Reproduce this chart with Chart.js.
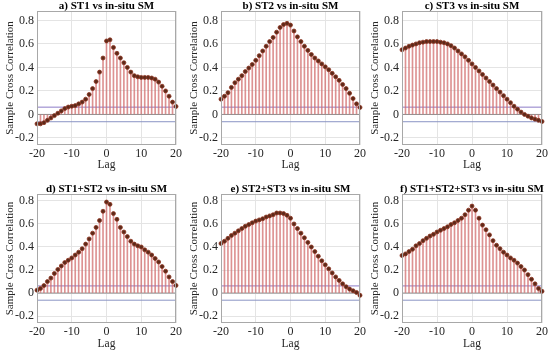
<!DOCTYPE html>
<html lang="en">
<head>
  <meta charset="UTF-8" />
  <title>Sample Cross Correlation vs in-situ SM</title>
  <script src="https://cdn.jsdelivr.net/npm/chart.js"></script>
  <style>
    body {
      margin: 0;
      background: #fff;
      width: 550px;
      height: 357px;
      position: relative;
      overflow: hidden;
    }
    .panel { position: absolute; }
  </style>
</head>
<body>
  <div class="panel" style="left:0px;top:-1px;width:184px;height:174px"><canvas id="chartA"></canvas></div>
  <div class="panel" style="left:184px;top:-1px;width:184px;height:174px"><canvas id="chartB"></canvas></div>
  <div class="panel" style="left:365px;top:-1px;width:185px;height:174px"><canvas id="chartC"></canvas></div>
  <div class="panel" style="left:0px;top:182px;width:184px;height:170px"><canvas id="chartD"></canvas></div>
  <div class="panel" style="left:184px;top:182px;width:184px;height:170px"><canvas id="chartE"></canvas></div>
  <div class="panel" style="left:365px;top:182px;width:185px;height:170px"><canvas id="chartF"></canvas></div>

  <script>
    // lags and tick values
    const lags = [-20, -19, -18, -17, -16, -15, -14, -13, -12, -11, -10, -9, -8, -7, -6, -5, -4, -3, -2, -1,
                  0, 1, 2, 3, 4, 5, 6, 7, 8, 9, 10, 11, 12, 13, 14, 15, 16, 17, 18, 19, 20];
    const xTicks = [-20, -10, 0, 10, 20];
    const yTicks = [-0.2, 0, 0.2, 0.4, 0.6, 0.8];
    const confBound = 0.062;

    const titles = [
      "a) ST1 vs in-situ SM",
      "b) ST2 vs in-situ SM",
      "c) ST3 vs in-situ SM",
      "d) ST1+ST2 vs in-situ SM",
      "e) ST2+ST3 vs in-situ SM",
      "f) ST1+ST2+ST3 vs in-situ SM"
    ];

    // sample cross correlation, lag -20 .. 20
    const st1 = [-0.08, -0.08, -0.07, -0.05, -0.03, -0.01, 0.01, 0.03, 0.05, 0.063, 0.07, 0.075, 0.09, 0.105, 0.13, 0.17, 0.22, 0.28, 0.36, 0.48,
                 0.625, 0.635, 0.57, 0.52, 0.48, 0.44, 0.40, 0.36, 0.33, 0.32, 0.315, 0.315, 0.315, 0.31, 0.30, 0.275, 0.24, 0.20, 0.155, 0.105, 0.068];
    const st2 = [0.13, 0.155, 0.185, 0.23, 0.27, 0.30, 0.33, 0.365, 0.395, 0.425, 0.46, 0.50, 0.54, 0.58, 0.62, 0.655, 0.70, 0.74, 0.765, 0.775,
                 0.76, 0.71, 0.66, 0.62, 0.58, 0.545, 0.51, 0.48, 0.455, 0.43, 0.405, 0.38, 0.35, 0.32, 0.29, 0.255, 0.22, 0.18, 0.135, 0.09, 0.06];
    const st3 = [0.55, 0.565, 0.58, 0.59, 0.60, 0.61, 0.615, 0.62, 0.62, 0.62, 0.62, 0.615, 0.61, 0.60, 0.585, 0.565, 0.54, 0.515, 0.49, 0.46,
                 0.43, 0.40, 0.37, 0.34, 0.31, 0.28, 0.25, 0.22, 0.19, 0.16, 0.13, 0.10, 0.07, 0.045, 0.02, 0.0, -0.015, -0.03, -0.04, -0.05, -0.06];
    const st12 = [0.025, 0.04, 0.065, 0.10, 0.13, 0.17, 0.205, 0.235, 0.265, 0.285, 0.305, 0.33, 0.355, 0.385, 0.425, 0.47, 0.52, 0.57, 0.63, 0.71,
                  0.79, 0.77, 0.69, 0.64, 0.57, 0.53, 0.49, 0.45, 0.425, 0.41, 0.40, 0.375, 0.355, 0.33, 0.30, 0.27, 0.23, 0.19, 0.14, 0.10, 0.066];
    const st23 = [0.43, 0.45, 0.475, 0.50, 0.52, 0.54, 0.56, 0.58, 0.595, 0.61, 0.625, 0.635, 0.645, 0.66, 0.67, 0.68, 0.695, 0.695, 0.69, 0.675,
                  0.65, 0.60, 0.56, 0.52, 0.48, 0.44, 0.40, 0.36, 0.32, 0.28, 0.245, 0.21, 0.175, 0.14, 0.11, 0.08, 0.055, 0.035, 0.02, 0.005, -0.02];
    const st123 = [0.326, 0.34, 0.36, 0.38, 0.41, 0.43, 0.455, 0.475, 0.495, 0.51, 0.53, 0.545, 0.56, 0.575, 0.595, 0.61, 0.63, 0.65, 0.68, 0.72,
                   0.755, 0.72, 0.65, 0.59, 0.55, 0.505, 0.455, 0.415, 0.385, 0.355, 0.33, 0.305, 0.285, 0.26, 0.23, 0.20, 0.16, 0.12, 0.08, 0.04, 0.015];

    Chart.defaults.font.family = '"Liberation Serif", "Times New Roman", serif';
    Chart.defaults.font.size = 11;
    Chart.defaults.color = '#262626';

    // panel title centred over the plot area + box round it
    const panelDecor = {
      id: 'panelDecor',
      afterDraw(chart, args, opts) {
        const { ctx, chartArea: a } = chart;
        ctx.save();
        ctx.strokeStyle = '#a8a8a8';
        ctx.lineWidth = 1;
        ctx.strokeRect(Math.round(a.left) + 0.5, Math.round(a.top) + 0.5,
                       Math.round(a.right - a.left) - 1, Math.round(a.bottom - a.top) - 1);
        ctx.font = 'bold 11px "Liberation Serif", serif';
        ctx.fillStyle = '#000';
        ctx.textAlign = 'center';
        ctx.textBaseline = 'alphabetic';
        ctx.fillText(opts.text, (a.left + a.right) / 2, a.top - 2);
        ctx.restore();
      }
    };

    function hLine(y, color, order) {
      return {
        type: 'line',
        data: [{ x: -20, y: y }, { x: 20, y: y }],
        borderColor: color,
        borderWidth: 1,
        pointRadius: 0,
        order: order
      };
    }

    function makeChart(id, title, values, yMin, yMax, xAxisH) {
      const pts = lags.map((l, i) => ({ x: l, y: values[i] }));
      return new Chart(document.getElementById(id), {
        type: 'bar',
        data: {
          datasets: [
            hLine(0, '#8e8e8e', 4),
            hLine(confBound, '#8c7cc8', 3),
            hLine(-confBound, '#8a94c4', 3),
            {
              type: 'bar',
              data: pts,
              backgroundColor: 'rgba(210, 110, 110, 0.75)',
              barThickness: 1,
              order: 2
            },
            {
              type: 'line',
              data: pts,
              showLine: false,
              pointRadius: 2,
              pointBorderWidth: 0.8,
              pointBackgroundColor: '#5c2a1a',
              pointBorderColor: '#8e3320',
              clip: 4,
              order: 1
            }
          ]
        },
        options: {
          responsive: true,
          maintainAspectRatio: false,
          animation: false,
          layout: { padding: { top: 12, right: 8, left: 0, bottom: 0 } },
          plugins: {
            legend: { display: false },
            tooltip: { enabled: false },
            panelDecor: { text: title }
          },
          scales: {
            x: {
              type: 'linear',
              min: -20,
              max: 20,
              offset: false,
              afterBuildTicks: s => { s.ticks = xTicks.map(v => ({ value: v })); },
              afterFit: s => { s.height = xAxisH; },
              ticks: { padding: 2, maxRotation: 0, font: { size: 12 }, callback: v => String(v) },
              grid: { color: '#e4e4e4', drawTicks: false, offset: false },
              border: { display: false },
              title: { display: true, text: 'Lag', font: { size: 11.5 }, padding: { top: 0, bottom: 1 } }
            },
            y: {
              min: yMin,
              max: yMax,
              afterBuildTicks: s => { s.ticks = yTicks.map(v => ({ value: v })); },
              afterFit: s => { s.width = 37; },
              ticks: { padding: 3, font: { size: 12 }, callback: v => (v === 0 ? '0' : v.toFixed(1)) },
              grid: { color: '#e4e4e4', drawTicks: false },
              border: { display: false },
              title: { display: true, text: 'Sample Cross Correlation', padding: { top: 4, bottom: 0 } }
            }
          }
        },
        plugins: [panelDecor]
      });
    }

    makeChart('chartA', titles[0], st1, -0.26, 0.88, 28);
    makeChart('chartB', titles[1], st2, -0.26, 0.88, 28);
    makeChart('chartC', titles[2], st3, -0.26, 0.88, 28);
    makeChart('chartD', titles[3], st12, -0.26, 0.86, 29);
    makeChart('chartE', titles[4], st23, -0.26, 0.86, 29);
    makeChart('chartF', titles[5], st123, -0.26, 0.86, 29);
  </script>
</body>
</html>
